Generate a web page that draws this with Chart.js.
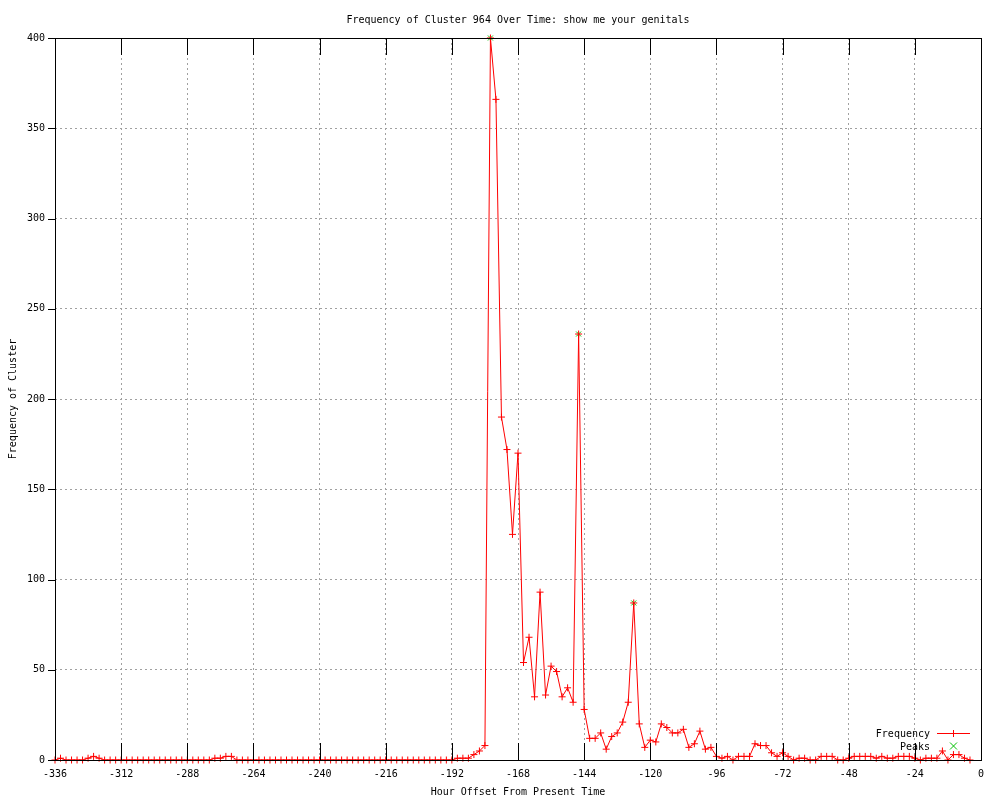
<!DOCTYPE html>
<html>
<head>
<meta charset="utf-8">
<script src="https://cdn.jsdelivr.net/npm/chart.js@4/dist/chart.umd.min.js"></script>
<style>html,body{margin:0;padding:0;background:#fff}canvas{display:block}</style>
</head>
<body>
<canvas id="c" width="1000" height="800"></canvas>
<script>
// ---- data ----
const hours = [
  -336,-334,-332,-330,-328,-326,-324,-322,-320,-318,
  -316,-314,-312,-310,-308,-306,-304,-302,-300,-298,
  -296,-294,-292,-290,-288,-286,-284,-282,-280,-278,
  -276,-274,-272,-270,-268,-266,-264,-262,-260,-258,
  -256,-254,-252,-250,-248,-246,-244,-242,-240,-238,
  -236,-234,-232,-230,-228,-226,-224,-222,-220,-218,
  -216,-214,-212,-210,-208,-206,-204,-202,-200,-198,
  -196,-194,-192,-190,-188,-186,-184,-182,-180,-178,
  -176,-174,-172,-170,-168,-166,-164,-162,-160,-158,
  -156,-154,-152,-150,-148,-146,-144,-142,-140,-138,
  -136,-134,-132,-130,-128,-126,-124,-122,-120,-118,
  -116,-114,-112,-110,-108,-106,-104,-102,-100,-98,
  -96,-94,-92,-90,-88,-86,-84,-82,-80,-78,
  -76,-74,-72,-70,-68,-66,-64,-62,-60,-58,
  -56,-54,-52,-50,-48,-46,-44,-42,-40,-38,
  -36,-34,-32,-30,-28,-26,-24,-22,-20,-18,
  -16,-14,-12,-10,-8,-6,-4
];
const frequency = [
  0,1,0,0,0,0,1,2,1,0,
  0,0,0,0,0,0,0,0,0,0,
  0,0,0,0,0,0,0,0,0,1,
  1,2,2,0,0,0,0,0,0,0,
  0,0,0,0,0,0,0,0,0,0,
  0,0,0,0,0,0,0,0,0,0,
  0,0,0,0,0,0,0,0,0,0,
  0,0,0,1,1,1,3,5,8,400,
  366,190,172,125,170,54,68,35,93,36,
  52,49,35,40,32,236,28,12,12,15,
  6,13,15,21,32,87,20,7,11,10,
  20,18,15,15,17,7,9,16,6,7,
  2,1,2,0,2,2,2,9,8,8,
  4,2,4,2,0,1,1,0,0,2,
  2,2,0,0,1,2,2,2,2,1,
  2,1,1,2,2,2,1,0,1,1,
  1,5,0,3,3,1,0
];
const peakHours = [-178, -146, -126];
const peakValues = [400, 236, 87];
const xTickValues = [-336,-312,-288,-264,-240,-216,-192,-168,-144,-120,-96,-72,-48,-24,0];
const yTickValues = [0,50,100,150,200,250,300,350,400];

const titleText = 'Frequency of Cluster 964 Over Time: show me your genitals';
const xTitle = 'Hour Offset From Present Time';
const yTitle = 'Frequency of Cluster';
const seriesNames = ['Frequency', 'Peaks'];

const FONT = '"DejaVu Sans Mono", "Liberation Mono", monospace';
const RED = '#ff0000';
const GREEN = '#00c000';
const GRID = '#a0a0a0';

const freqData = hours.map((h, i) => ({x: h, y: frequency[i]}));
const peakData = peakHours.map((h, i) => ({x: h, y: peakValues[i]}));

const decor = {
  id: 'decor',
  afterDatasetsDraw(chart) {
    const {ctx, chartArea: a, scales: {x, y}} = chart;
    ctx.save();
    ctx.strokeStyle = '#000';
    ctx.lineWidth = 1;
    ctx.beginPath();
    for (const v of xTickValues) {
      const px = Math.round(x.getPixelForValue(v)) + 0.5;
      ctx.moveTo(px, a.bottom); ctx.lineTo(px, a.bottom - 17);
      ctx.moveTo(px, a.top); ctx.lineTo(px, a.top + 17);
    }
    for (const v of yTickValues) {
      const py = Math.round(y.getPixelForValue(v)) + 0.5;
      ctx.moveTo(a.left - 7, py); ctx.lineTo(a.left, py);
    }
    ctx.stroke();
    ctx.strokeRect(Math.round(a.left) + 0.5, Math.round(a.top) + 0.5,
                   Math.round(a.right - a.left), Math.round(a.bottom - a.top));

    // title
    ctx.fillStyle = '#000';
    ctx.font = '10px ' + FONT;
    ctx.textAlign = 'center';
    ctx.textBaseline = 'alphabetic';
    ctx.fillText(titleText, (a.left + a.right) / 2, 23);

    // key (bottom right, inside)
    ctx.textAlign = 'right';
    ctx.fillText(seriesNames[0], 930, 737);
    ctx.fillText(seriesNames[1], 930, 750);
    ctx.strokeStyle = RED;
    ctx.beginPath();
    ctx.moveTo(937, 733.5); ctx.lineTo(970, 733.5);
    ctx.moveTo(953.5, 730); ctx.lineTo(953.5, 737);
    ctx.stroke();
    ctx.strokeStyle = GREEN;
    ctx.beginPath();
    ctx.moveTo(950, 742.5); ctx.lineTo(957, 749.5);
    ctx.moveTo(957, 742.5); ctx.lineTo(950, 749.5);
    ctx.stroke();
    ctx.restore();
  }
};

new Chart(document.getElementById('c'), {
  type: 'line',
  data: {
    datasets: [
      {
        label: seriesNames[0],
        data: freqData,
        borderColor: RED,
        backgroundColor: RED,
        borderWidth: 1,
        pointStyle: 'cross',
        pointRadius: 3.5,
        pointBorderWidth: 1,
        pointBorderColor: RED,
        pointHoverRadius: 3.5,
        tension: 0,
        fill: false,
        clip: false
      },
      {
        label: seriesNames[1],
        data: peakData,
        showLine: false,
        borderColor: GREEN,
        backgroundColor: GREEN,
        pointStyle: 'crossRot',
        pointRadius: 3.5,
        pointBorderWidth: 1,
        pointBorderColor: GREEN,
        clip: false
      }
    ]
  },
  options: {
    responsive: false,
    animation: false,
    devicePixelRatio: 1,
    events: [],
    layout: {padding: {top: 38, right: 19, left: 0, bottom: 0}},
    plugins: {legend: {display: false}, title: {display: false}, tooltip: {enabled: false}},
    scales: {
      x: {
        type: 'linear',
        min: -336, max: 0,
        afterBuildTicks: s => { s.ticks = xTickValues.map(v => ({value: v})); },
        afterFit: s => { s.height = 40; },
        ticks: {
          autoSkip: false, maxRotation: 0, padding: 8,
          color: '#000', font: {family: FONT, size: 10},
          callback: v => String(v)
        },
        grid: {
          drawTicks: false,
          color: c => (c.tick && (c.tick.value === -336 || c.tick.value === 0)) ? 'rgba(0,0,0,0)' : GRID,
          lineWidth: 1
        },
        border: {display: false, dash: [2, 3]},
        title: {display: true, text: xTitle, color: '#000', font: {family: FONT, size: 10}, padding: {top: 0, bottom: 2}}
      },
      y: {
        type: 'linear',
        min: 0, max: 400,
        afterBuildTicks: s => { s.ticks = yTickValues.map(v => ({value: v})); },
        afterFit: s => { s.width = 55; },
        ticks: {
          padding: 10, color: '#000', font: {family: FONT, size: 10},
          callback: v => String(v)
        },
        grid: {
          drawTicks: false,
          color: c => (c.tick && (c.tick.value === 0 || c.tick.value === 400)) ? 'rgba(0,0,0,0)' : GRID,
          lineWidth: 1
        },
        border: {display: false, dash: [2, 3]},
        title: {display: true, text: yTitle, color: '#000', font: {family: FONT, size: 10}, padding: {top: 7, bottom: 0}}
      }
    }
  },
  plugins: [decor]
});
</script>
</body>
</html>
